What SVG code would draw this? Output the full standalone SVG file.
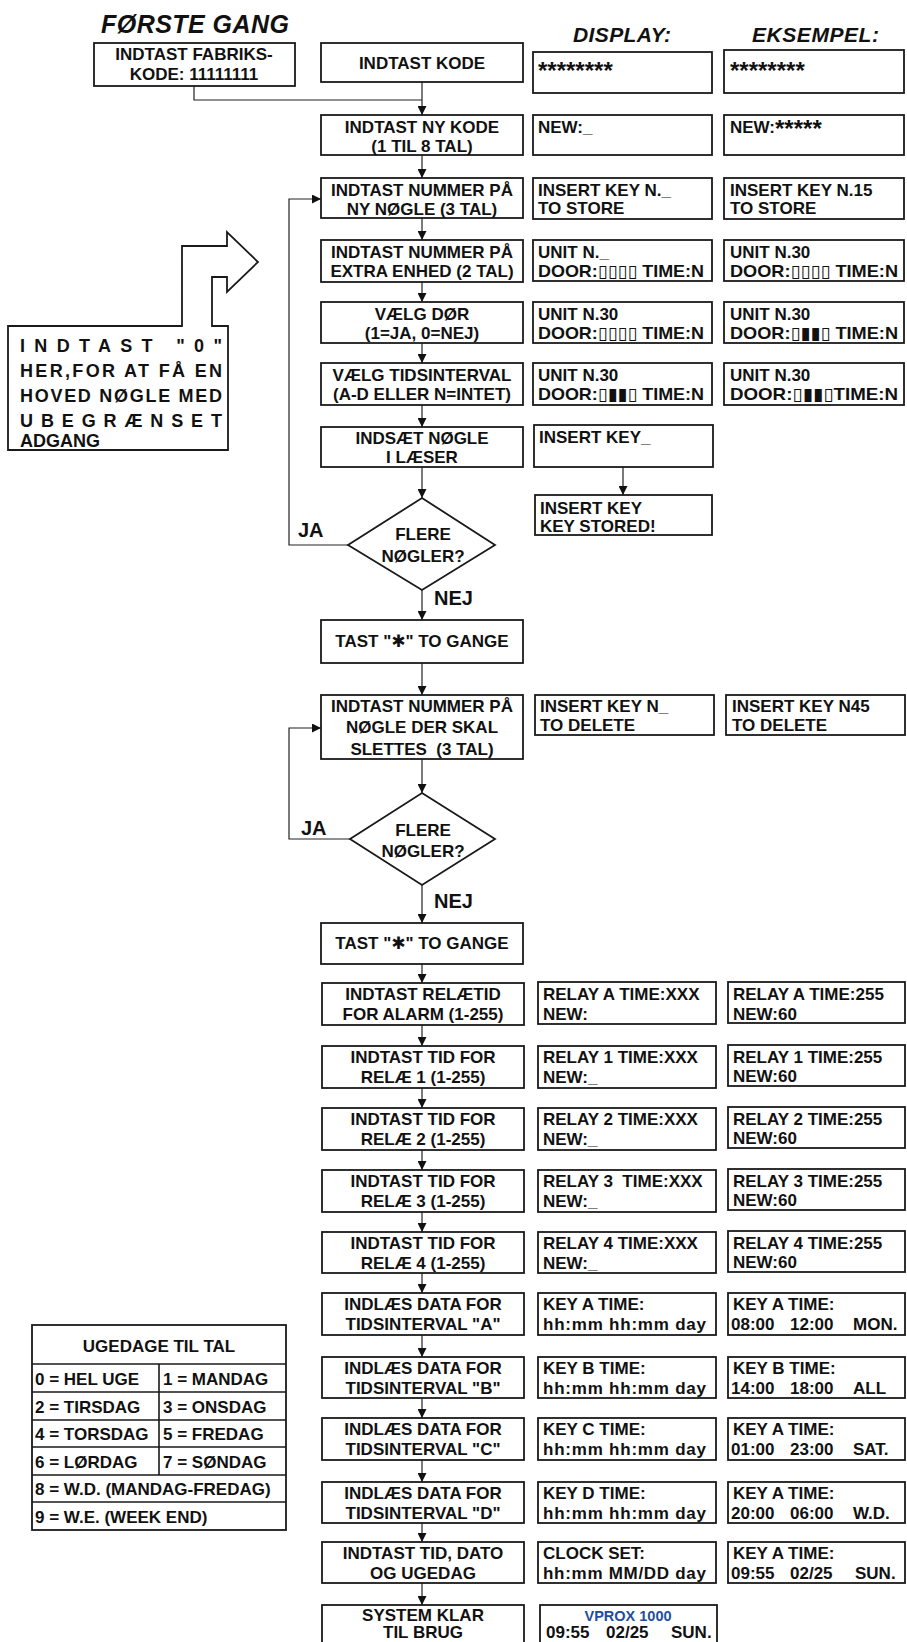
<svg xmlns="http://www.w3.org/2000/svg" width="907" height="1642" viewBox="0 0 907 1642">
<defs>
<style>
.b{fill:#fff;stroke:#1a1a1a;stroke-width:1.8}
.t{font-family:'Liberation Sans',Arial,'DejaVu Sans',sans-serif;font-weight:bold;font-size:17px;fill:#111}
.m{text-anchor:middle}
.h{font-style:italic;font-size:21px}
.big{font-size:20px}
.n{font-size:18px}
.c{fill:none;stroke:#222;stroke-width:1.2}
.bl{fill:#1f4e9c;font-size:14.5px}
.st{font-size:24px}
</style>
<marker id="ah" viewBox="0 0 9 9" markerWidth="9" markerHeight="9" refX="9" refY="4.5" orient="auto" markerUnits="userSpaceOnUse"><path d="M0,0 L9,4.5 L0,9 z" fill="#111"/></marker>
</defs>
<rect width="907" height="1642" fill="#fff"/>

<g id="headers">
<text class="t h" x="101" y="33" style="font-size:25px" textLength="188">FØRSTE GANG</text>
<text class="t h" x="573" y="42" textLength="98">DISPLAY:</text>
<text class="t h" x="752" y="42" textLength="127">EKSEMPEL:</text>
</g>

<g id="connectors">
<path class="c" d="M194,86 V100 H422"/>
<path class="c" d="M422,82 V115" marker-end="url(#ah)"/>
<path class="c" d="M422,155 V178" marker-end="url(#ah)"/>
<path class="c" d="M422,218 V240" marker-end="url(#ah)"/>
<path class="c" d="M422,282 V302" marker-end="url(#ah)"/>
<path class="c" d="M422,343 V363" marker-end="url(#ah)"/>
<path class="c" d="M422,405 V427" marker-end="url(#ah)"/>
<path class="c" d="M422,467 V498" marker-end="url(#ah)"/>
<path class="c" d="M623,467 V495" marker-end="url(#ah)"/>
<path class="c" d="M348,545 H289 V199 H321" marker-end="url(#ah)"/>
<path class="c" d="M422,590 V620" marker-end="url(#ah)"/>
<path class="c" d="M422,663 V695" marker-end="url(#ah)"/>
<path class="c" d="M422,759 V793" marker-end="url(#ah)"/>
<path class="c" d="M350,839 H289 V728 H321" marker-end="url(#ah)"/>
<path class="c" d="M422,885 V923" marker-end="url(#ah)"/>
<path class="c" d="M422,964 V983" marker-end="url(#ah)"/>
<path class="c" d="M422,1025 V1046" marker-end="url(#ah)"/>
<path class="c" d="M422,1088 V1108" marker-end="url(#ah)"/>
<path class="c" d="M422,1150 V1170" marker-end="url(#ah)"/>
<path class="c" d="M422,1212 V1232" marker-end="url(#ah)"/>
<path class="c" d="M422,1273 V1293" marker-end="url(#ah)"/>
<path class="c" d="M422,1335 V1357" marker-end="url(#ah)"/>
<path class="c" d="M422,1398 V1418" marker-end="url(#ah)"/>
<path class="c" d="M422,1460 V1482" marker-end="url(#ah)"/>
<path class="c" d="M422,1523 V1542" marker-end="url(#ah)"/>
<path class="c" d="M422,1583 V1605" marker-end="url(#ah)"/>
</g>

<g id="n-fabriks">
<rect class="b" x="94" y="43" width="201" height="43"/>
<text class="t m" x="194" y="60">INDTAST FABRIKS-</text>
<text class="t m" x="194" y="80">KODE: 11111111</text>
</g>

<g id="n-kode">
<rect class="b" x="321" y="43" width="202" height="39"/>
<text class="t m" x="422" y="69">INDTAST KODE</text>
<rect class="b" x="533" y="52" width="179" height="41"/>
<text class="t st" x="538" y="79">********</text>
<rect class="b" x="724" y="50" width="180" height="43"/>
<text class="t st" x="730" y="79">********</text>
</g>

<g id="n-nykode">
<rect class="b" x="321" y="115" width="202" height="40"/>
<text class="t m" x="422" y="133">INDTAST NY KODE</text>
<text class="t m" x="422" y="152">(1 TIL 8 TAL)</text>
<rect class="b" x="533" y="115" width="179" height="40"/>
<text class="t" x="538" y="133">NEW:_</text>
<rect class="b" x="724" y="115" width="180" height="40"/>
<text class="t" x="730" y="133">NEW:<tspan class="st" dy="4">*****</tspan></text>
</g>

<g id="n-nynoegle">
<rect class="b" x="321" y="178" width="202" height="40"/>
<text class="t m" x="422" y="196">INDTAST NUMMER PÅ</text>
<text class="t m" x="422" y="215">NY NØGLE (3 TAL)</text>
<rect class="b" x="533" y="178" width="179" height="41"/>
<text class="t" x="538" y="196">INSERT KEY N._</text>
<text class="t" x="538" y="214">TO STORE</text>
<rect class="b" x="724" y="178" width="180" height="41"/>
<text class="t" x="730" y="196">INSERT KEY N.15</text>
<text class="t" x="730" y="214">TO STORE</text>
</g>

<g id="n-enhed">
<rect class="b" x="321" y="240" width="202" height="42"/>
<text class="t m" x="422" y="258">INDTAST NUMMER PÅ</text>
<text class="t m" x="422" y="277">EXTRA ENHED (2 TAL)</text>
<rect class="b" x="533" y="240" width="179" height="41"/>
<text class="t" x="538" y="258">UNIT N._</text>
<text class="t" x="538" y="277" textLength="166" lengthAdjust="spacingAndGlyphs">DOOR:▯▯▯▯ TIME:N</text>
<rect class="b" x="724" y="240" width="180" height="41"/>
<text class="t" x="730" y="258">UNIT N.30</text>
<text class="t" x="730" y="277" textLength="168" lengthAdjust="spacingAndGlyphs">DOOR:▯▯▯▯ TIME:N</text>
</g>

<g id="n-doer">
<rect class="b" x="321" y="302" width="202" height="41"/>
<text class="t m" x="422" y="320">VÆLG DØR</text>
<text class="t m" x="422" y="339">(1=JA, 0=NEJ)</text>
<rect class="b" x="533" y="302" width="179" height="41"/>
<text class="t" x="538" y="320">UNIT N.30</text>
<text class="t" x="538" y="339" textLength="166" lengthAdjust="spacingAndGlyphs">DOOR:▯▯▯▯ TIME:N</text>
<rect class="b" x="724" y="302" width="180" height="41"/>
<text class="t" x="730" y="320">UNIT N.30</text>
<text class="t" x="730" y="339" textLength="168" lengthAdjust="spacingAndGlyphs">DOOR:▯▮▮▯ TIME:N</text>
</g>

<g id="n-tidsinterval">
<rect class="b" x="321" y="363" width="202" height="42"/>
<text class="t m" x="422" y="381">VÆLG TIDSINTERVAL</text>
<text class="t m" x="422" y="400">(A-D ELLER N=INTET)</text>
<rect class="b" x="533" y="363" width="179" height="42"/>
<text class="t" x="538" y="381">UNIT N.30</text>
<text class="t" x="538" y="400" textLength="166" lengthAdjust="spacingAndGlyphs">DOOR:▯▮▮▯ TIME:N</text>
<rect class="b" x="724" y="363" width="180" height="42"/>
<text class="t" x="730" y="381">UNIT N.30</text>
<text class="t" x="730" y="400" textLength="168" lengthAdjust="spacingAndGlyphs">DOOR:▯▮▮▯TIME:N</text>
</g>

<g id="n-indsaet">
<rect class="b" x="321" y="427" width="202" height="40"/>
<text class="t m" x="422" y="444">INDSÆT NØGLE</text>
<text class="t m" x="422" y="463">I LÆSER</text>
<rect class="b" x="534" y="425" width="179" height="42"/>
<text class="t" x="539" y="443">INSERT KEY_</text>
</g>

<g id="n-keystored">
<rect class="b" x="535" y="495" width="177" height="40"/>
<text class="t" x="540" y="514">INSERT KEY</text>
<text class="t" x="540" y="532">KEY STORED!</text>
</g>

<g id="n-flere1">
<polygon class="b" points="422,498 495,545 422,590 348,545"/>
<text class="t m" x="423" y="540">FLERE</text>
<text class="t m" x="423" y="562">NØGLER?</text>
<text class="t big" x="298" y="537">JA</text>
<text class="t big" x="434" y="605">NEJ</text>
</g>

<g id="n-tast1">
<rect class="b" x="321" y="620" width="202" height="43"/>
<text class="t m" x="422" y="647">TAST "✱" TO GANGE</text>
</g>

<g id="n-slet">
<rect class="b" x="321" y="695" width="202" height="64"/>
<text class="t m" x="422" y="712">INDTAST NUMMER PÅ</text>
<text class="t m" x="422" y="733">NØGLE DER SKAL</text>
<text class="t m" x="422" y="755" xml:space="preserve">SLETTES  (3 TAL)</text>
<rect class="b" x="535" y="695" width="179" height="40"/>
<text class="t" x="540" y="712">INSERT KEY N_</text>
<text class="t" x="540" y="731">TO DELETE</text>
<rect class="b" x="726" y="695" width="179" height="40"/>
<text class="t" x="732" y="712">INSERT KEY N45</text>
<text class="t" x="732" y="731">TO DELETE</text>
</g>

<g id="n-flere2">
<polygon class="b" points="422,793 495,839 422,885 350,839"/>
<text class="t m" x="423" y="836">FLERE</text>
<text class="t m" x="423" y="857">NØGLER?</text>
<text class="t big" x="301" y="835">JA</text>
<text class="t big" x="434" y="908">NEJ</text>
</g>

<g id="n-tast2">
<rect class="b" x="321" y="923" width="202" height="41"/>
<text class="t m" x="422" y="949">TAST "✱" TO GANGE</text>
</g>

<g id="n-relayA">
<rect class="b" x="322" y="983" width="202" height="42"/>
<text class="t m" x="423" y="1000">INDTAST RELÆTID</text>
<text class="t m" x="423" y="1020">FOR ALARM (1-255)</text>
<rect class="b" x="538" y="982" width="178" height="42"/>
<text class="t" x="543" y="1000">RELAY A TIME:XXX</text>
<text class="t" x="543" y="1020">NEW:</text>
<rect class="b" x="728" y="982" width="177" height="41"/>
<text class="t" x="733" y="1000">RELAY A TIME:255</text>
<text class="t" x="733" y="1020">NEW:60</text>
</g>

<g id="n-relay1">
<rect class="b" x="322" y="1046" width="202" height="42"/>
<text class="t m" x="423" y="1063">INDTAST TID FOR</text>
<text class="t m" x="423" y="1083">RELÆ 1 (1-255)</text>
<rect class="b" x="538" y="1046" width="178" height="42"/>
<text class="t" x="543" y="1063">RELAY 1 TIME:XXX</text>
<text class="t" x="543" y="1083">NEW:_</text>
<rect class="b" x="728" y="1045" width="177" height="41"/>
<text class="t" x="733" y="1063">RELAY 1 TIME:255</text>
<text class="t" x="733" y="1082">NEW:60</text>
</g>

<g id="n-relay2">
<rect class="b" x="322" y="1108" width="202" height="42"/>
<text class="t m" x="423" y="1125">INDTAST TID FOR</text>
<text class="t m" x="423" y="1145">RELÆ 2 (1-255)</text>
<rect class="b" x="538" y="1108" width="178" height="42"/>
<text class="t" x="543" y="1125">RELAY 2 TIME:XXX</text>
<text class="t" x="543" y="1145">NEW:_</text>
<rect class="b" x="728" y="1107" width="177" height="41"/>
<text class="t" x="733" y="1125">RELAY 2 TIME:255</text>
<text class="t" x="733" y="1144">NEW:60</text>
</g>

<g id="n-relay3">
<rect class="b" x="322" y="1170" width="202" height="42"/>
<text class="t m" x="423" y="1187">INDTAST TID FOR</text>
<text class="t m" x="423" y="1207">RELÆ 3 (1-255)</text>
<rect class="b" x="538" y="1170" width="178" height="42"/>
<text class="t" x="543" y="1187" xml:space="preserve">RELAY 3  TIME:XXX</text>
<text class="t" x="543" y="1207">NEW:_</text>
<rect class="b" x="728" y="1169" width="177" height="41"/>
<text class="t" x="733" y="1187">RELAY 3 TIME:255</text>
<text class="t" x="733" y="1206">NEW:60</text>
</g>

<g id="n-relay4">
<rect class="b" x="322" y="1232" width="202" height="41"/>
<text class="t m" x="423" y="1249">INDTAST TID FOR</text>
<text class="t m" x="423" y="1269">RELÆ 4 (1-255)</text>
<rect class="b" x="538" y="1232" width="178" height="41"/>
<text class="t" x="543" y="1249">RELAY 4 TIME:XXX</text>
<text class="t" x="543" y="1269">NEW:_</text>
<rect class="b" x="728" y="1231" width="177" height="41"/>
<text class="t" x="733" y="1249">RELAY 4 TIME:255</text>
<text class="t" x="733" y="1268">NEW:60</text>
</g>

<g id="n-keyA">
<rect class="b" x="322" y="1293" width="202" height="42"/>
<text class="t m" x="423" y="1310">INDLÆS DATA FOR</text>
<text class="t m" x="423" y="1330">TIDSINTERVAL "A"</text>
<rect class="b" x="538" y="1293" width="178" height="42"/>
<text class="t" x="543" y="1310">KEY A TIME:</text>
<text class="t" x="543" y="1330" textLength="163" lengthAdjust="spacing">hh:mm hh:mm day</text>
<rect class="b" x="728" y="1293" width="177" height="42"/>
<text class="t" x="733" y="1310">KEY A TIME:</text>
<text class="t" x="731" y="1330">08:00</text>
<text class="t" x="790" y="1330">12:00</text>
<text class="t" x="853" y="1330">MON.</text>
</g>

<g id="n-keyB">
<rect class="b" x="322" y="1357" width="202" height="41"/>
<text class="t m" x="423" y="1374">INDLÆS DATA FOR</text>
<text class="t m" x="423" y="1394">TIDSINTERVAL "B"</text>
<rect class="b" x="538" y="1357" width="178" height="41"/>
<text class="t" x="543" y="1374">KEY B TIME:</text>
<text class="t" x="543" y="1394" textLength="163" lengthAdjust="spacing">hh:mm hh:mm day</text>
<rect class="b" x="728" y="1357" width="177" height="41"/>
<text class="t" x="733" y="1374">KEY B TIME:</text>
<text class="t" x="731" y="1394">14:00</text>
<text class="t" x="790" y="1394">18:00</text>
<text class="t" x="853" y="1394">ALL</text>
</g>

<g id="n-keyC">
<rect class="b" x="322" y="1418" width="202" height="42"/>
<text class="t m" x="423" y="1435">INDLÆS DATA FOR</text>
<text class="t m" x="423" y="1455">TIDSINTERVAL "C"</text>
<rect class="b" x="538" y="1418" width="178" height="42"/>
<text class="t" x="543" y="1435">KEY C TIME:</text>
<text class="t" x="543" y="1455" textLength="163" lengthAdjust="spacing">hh:mm hh:mm day</text>
<rect class="b" x="728" y="1418" width="177" height="42"/>
<text class="t" x="733" y="1435">KEY A TIME:</text>
<text class="t" x="731" y="1455">01:00</text>
<text class="t" x="790" y="1455">23:00</text>
<text class="t" x="853" y="1455">SAT.</text>
</g>

<g id="n-keyD">
<rect class="b" x="322" y="1482" width="202" height="41"/>
<text class="t m" x="423" y="1499">INDLÆS DATA FOR</text>
<text class="t m" x="423" y="1519">TIDSINTERVAL "D"</text>
<rect class="b" x="538" y="1482" width="178" height="41"/>
<text class="t" x="543" y="1499">KEY D TIME:</text>
<text class="t" x="543" y="1519" textLength="163" lengthAdjust="spacing">hh:mm hh:mm day</text>
<rect class="b" x="728" y="1482" width="177" height="41"/>
<text class="t" x="733" y="1499">KEY A TIME:</text>
<text class="t" x="731" y="1519">20:00</text>
<text class="t" x="790" y="1519">06:00</text>
<text class="t" x="853" y="1519">W.D.</text>
</g>

<g id="n-clock">
<rect class="b" x="322" y="1542" width="202" height="41"/>
<text class="t m" x="423" y="1559">INDTAST TID, DATO</text>
<text class="t m" x="423" y="1579">OG UGEDAG</text>
<rect class="b" x="538" y="1542" width="178" height="41"/>
<text class="t" x="543" y="1559">CLOCK SET:</text>
<text class="t" x="543" y="1579" textLength="163" lengthAdjust="spacing">hh:mm MM/DD day</text>
<rect class="b" x="728" y="1542" width="177" height="41"/>
<text class="t" x="733" y="1559">KEY A TIME:</text>
<text class="t" x="731" y="1579">09:55</text>
<text class="t" x="790" y="1579">02/25</text>
<text class="t" x="855" y="1579">SUN.</text>
</g>

<g id="n-system">
<rect class="b" x="322" y="1605" width="202" height="44"/>
<text class="t m" x="423" y="1621">SYSTEM KLAR</text>
<text class="t m" x="423" y="1638">TIL BRUG</text>
<rect class="b" x="540" y="1605" width="177" height="44"/>
<text class="t m bl" x="628" y="1621">VPROX 1000</text>
<text class="t" x="546" y="1638">09:55</text>
<text class="t" x="606" y="1638">02/25</text>
<text class="t" x="671" y="1638">SUN.</text>
</g>

<g id="n-note">
<path class="b" d="M8,326 H182 V246 H227 V232 L258,262 L227,292 V277 H212 V326 H228 V450 H8 Z"/>
<text class="t n" x="20" y="352" textLength="202" lengthAdjust="spacing">INDTAST "0"</text>
<text class="t n" x="20" y="377" textLength="202" lengthAdjust="spacing">HER,FOR AT FÅ EN</text>
<text class="t n" x="20" y="402" textLength="202" lengthAdjust="spacing">HOVED NØGLE MED</text>
<text class="t n" x="20" y="427" textLength="202" lengthAdjust="spacing">UBEGRÆNSET</text>
<text class="t n" x="20" y="447">ADGANG</text>
</g>

<g id="n-ugedage">
<rect class="b" x="32" y="1325" width="254" height="205"/>
<path class="c" style="stroke:#1a1a1a;stroke-width:1.6" d="M32,1364 H286 M32,1392 H286 M32,1420 H286 M32,1447 H286 M32,1475 H286 M32,1502 H286 M159,1364 V1475"/>
<text class="t m" x="159" y="1352">UGEDAGE TIL TAL</text>
<text class="t" x="35" y="1385">0 = HEL UGE</text>
<text class="t" x="163" y="1385">1 = MANDAG</text>
<text class="t" x="35" y="1413">2 = TIRSDAG</text>
<text class="t" x="163" y="1413">3 = ONSDAG</text>
<text class="t" x="35" y="1440">4 = TORSDAG</text>
<text class="t" x="163" y="1440">5 = FREDAG</text>
<text class="t" x="35" y="1468">6 = LØRDAG</text>
<text class="t" x="163" y="1468">7 = SØNDAG</text>
<text class="t" x="35" y="1495">8 = W.D. (MANDAG-FREDAG)</text>
<text class="t" x="35" y="1523">9 = W.E. (WEEK END)</text>
</g>
</svg>
